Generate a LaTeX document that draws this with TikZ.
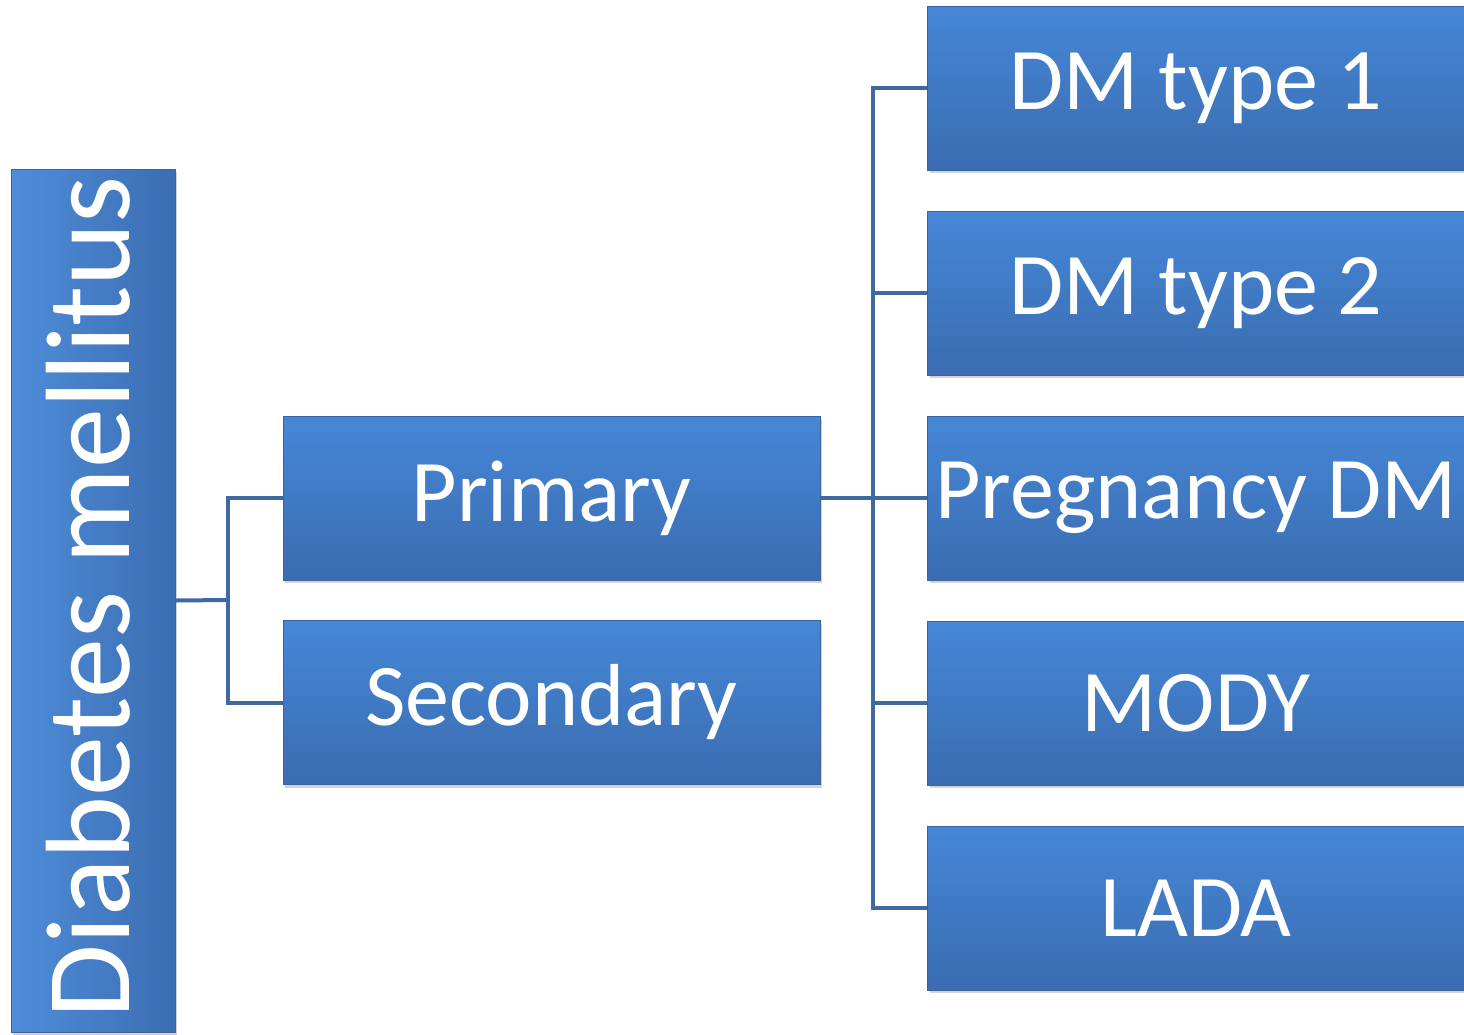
\documentclass[tikz,border=0pt]{standalone}
\usepackage{fontspec}
\setmainfont{Carlito}
\usetikzlibrary{shadows}
\definecolor{boxtop}{HTML}{4687D7}
\definecolor{boxbot}{HTML}{3A6CB0}
\definecolor{boxedge}{HTML}{3A64A0}
\definecolor{linkcol}{HTML}{3F6AA0}

\tikzset{
    catbox/.style={draw=boxedge, line width=1pt, top color=boxtop, bottom color=boxbot,
        text=white, inner sep=0pt, minimum width=537pt, minimum height=164pt,
        font=\fontsize{88}{96}\selectfont,
        drop shadow={shadow xshift=2pt, shadow yshift=-3pt, opacity=0.35}},
    link/.style={linkcol, line width=4pt}
}

\begin{document}
\begin{tikzpicture}[x=1pt, y=-1pt]
    \useasboundingbox (0,0) rectangle (1464,1034);

    % Root box
    \node[catbox, minimum width=164pt, minimum height=863pt, left color=boxtop!95!white, right color=boxbot!95!boxtop] (root) at (93,600.5) {};
    \node[text=white, rotate=90, font=\fontsize{120}{124}\selectfont] (roottext) at (88,597) {Diabetes mellitus};

    % Middle level
    \node[catbox] (prim) at (551.5,498) {Primary};
    \node[catbox] (sec) at (551.5,702.5) {Secondary};

    % Right column
    \node[catbox] (t1) at (1196,88) {DM type 1};
    \node[catbox] (t2) at (1196,293) {DM type 2};
    \node[catbox] (preg) at (1196,498) {Pregnancy DM};
    \node[catbox] (mody) at (1196,703) {MODY};
    \node[catbox] (lada) at (1196,908) {LADA};

    % Connectors
    \coordinate (j1) at (228,600);
    \coordinate (j2) at (873,498);
    \draw[link] (root.east) -- (j1);
    \draw[link] (prim.west) -| (j1);
    \draw[link] (sec.west) -| (j1);
    \draw[link] (prim.east) -- (j2);
    \foreach \n in {t1,t2,preg,mody,lada}
        \draw[link] (\n.west) -| (j2);
\end{tikzpicture}
\end{document}
